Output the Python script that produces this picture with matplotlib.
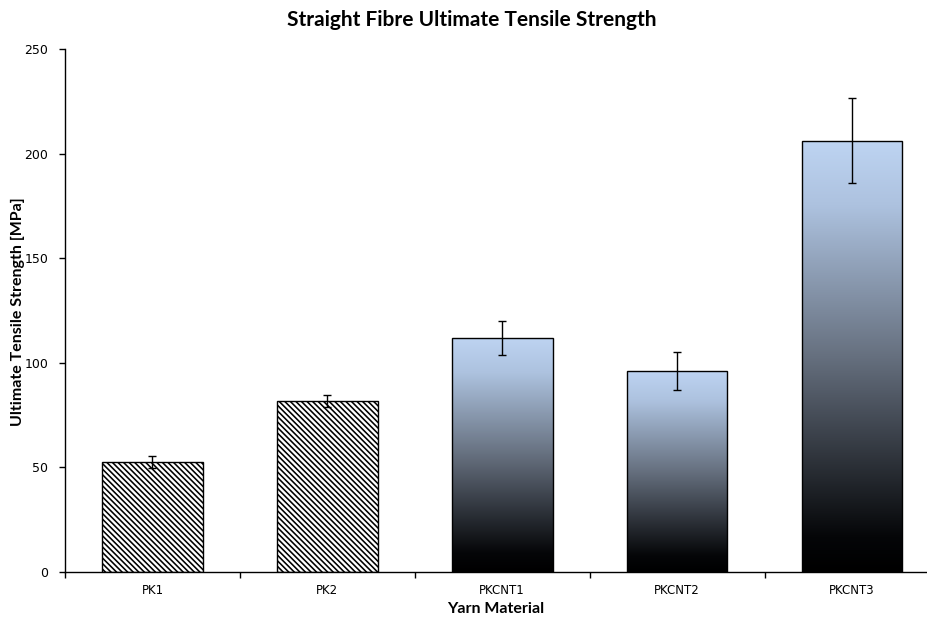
import matplotlib
matplotlib.use("Agg")
import matplotlib.pyplot as plt
import numpy as np
from matplotlib.colors import LinearSegmentedColormap
from matplotlib.patches import Rectangle

categories = ["PK1", "PK2", "PKCNT1", "PKCNT2", "PKCNT3"]
values = [52.6, 81.8, 111.9, 96.2, 206.2]
errors = [2.9, 3.0, 8.0, 9.0, 20.3]
hatched = [True, True, False, False, False]
yticks = [0, 50, 100, 150, 200, 250]

plt.rcParams['hatch.linewidth'] = 1.15
plt.rcParams['hatch.color'] = '#7a7a7a'

fig = plt.figure(figsize=9.28 * np.array([1, 619 / 928]), dpi=100)
ax = fig.add_axes([65 / 928, 1 - 572 / 619, (939.5 - 65) / 928, (572 - 49) / 619])

x = np.arange(len(categories))
width = 0.575
cmap = LinearSegmentedColormap.from_list(
    "grad", [(0, "#000000"), (0.08, "#050608"), (0.5, "#66707f"), (0.85, "#adc2df"), (1.0, "#bed4f2")])
grad = np.linspace(0, 1, 256).reshape(-1, 1)

for xi, v, h in zip(x, values, hatched):
    if h:
        ax.bar(xi, v, width, color="white", edgecolor="black", linewidth=1.0,
               hatch="\\\\\\\\\\\\", zorder=2)
    else:
        im = ax.imshow(grad, cmap=cmap, aspect="auto", origin="lower",
                       extent=[xi - width / 2, xi + width / 2, 0, v], zorder=2)
        rect = Rectangle((xi - width / 2, 0), width, v, transform=ax.transData)
        im.set_clip_path(rect)
        ax.bar(xi, v, width, color="none", edgecolor="black", linewidth=1.0, zorder=3)

ax.errorbar(x, values, yerr=errors, fmt="none", ecolor="black", elinewidth=1.0,
            capsize=3, capthick=1.0, zorder=4)

ax.set_xlim(-0.5, 4.5)
ax.set_ylim(0, 250)
ax.set_yticks(yticks)
ax.set_yticklabels([str(t) for t in yticks], fontsize=9, family="DejaVu Sans")
ax.set_xticks(x)
ax.set_xticklabels(categories, fontsize=8.5, family="DejaVu Sans")
ax.set_xticks(np.arange(-0.5, 5.0, 1), minor=True)
ax.tick_params(axis="x", which="major", length=0, pad=9)
ax.tick_params(axis="x", which="minor", length=4, direction="out", width=1)
ax.tick_params(axis="y", length=4, direction="out", width=1, pad=8)

for s in ["top", "right"]:
    ax.spines[s].set_visible(False)
ax.spines["left"].set_linewidth(1.0)
ax.spines["bottom"].set_linewidth(1.0)

fig.text(472 / 928, 1 - 20 / 619, "Straight Fibre Ultimate Tensile Strength",
         ha="center", va="center", fontsize=15, fontweight="bold", family="Lato")
fig.text(496 / 928, 1 - 609 / 619, "Yarn Material", ha="center", va="center",
         fontsize=11.5, fontweight="bold", family="Lato")
fig.text(18 / 928, 1 - 312 / 619, "Ultimate Tensile Strength [MPa]", ha="center", va="center",
         rotation=90, fontsize=11.5, fontweight="bold", family="Lato")

fig.savefig("out.png", dpi=100)
